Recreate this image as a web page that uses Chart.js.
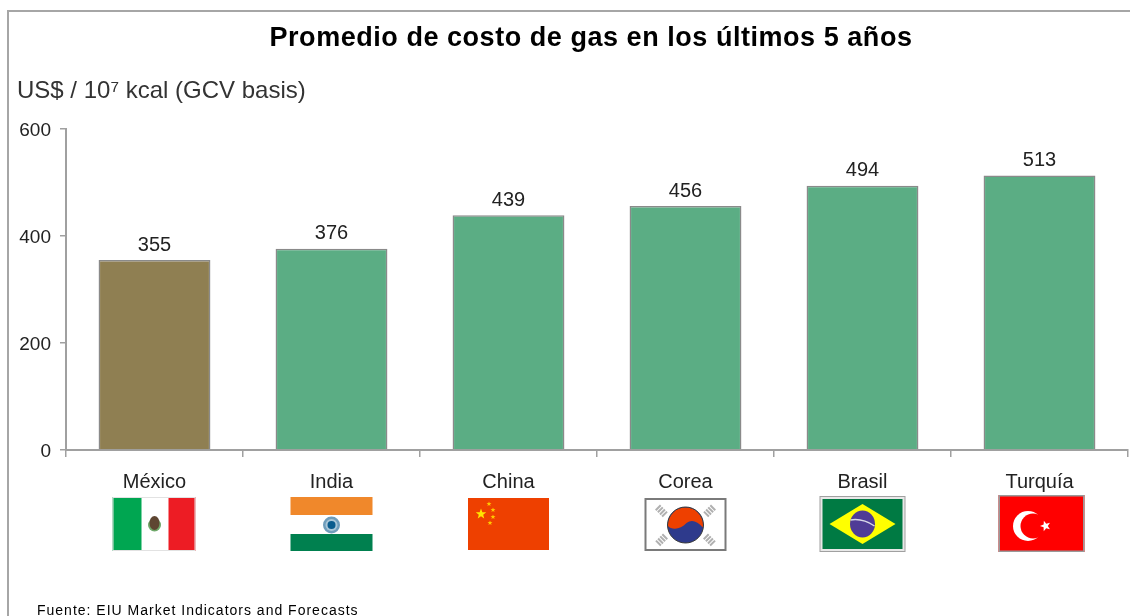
<!DOCTYPE html>
<html><head><meta charset="utf-8">
<style>html,body{margin:0;padding:0;background:#fff}canvas{display:block}</style>
<script src="https://cdn.jsdelivr.net/npm/chart.js@4"></script></head>
<body><canvas id="c" width="1130" height="616"></canvas>
<script>
const categories = ["México","India","China","Corea","Brasil","Turquía"];
const values = [355,376,439,456,494,513];
const barColors = ["#8F7F52","#5BAD84","#5BAD84","#5BAD84","#5BAD84","#5BAD84"];
const yTicks = [0,200,400,600];
const titleText = "Promedio de costo de gas en los últimos 5 años";
const unitText = "US$ / 10⁷ kcal (GCV basis)";
const sourceText = "Fuente: EIU Market Indicators and Forecasts";
const FONT = '"Liberation Sans", Arial, sans-serif';

function star(ctx,cx,cy,r,color,rot){
  ctx.fillStyle=color;ctx.beginPath();
  for(let i=0;i<10;i++){const a=-Math.PI/2+(rot||0)+i*Math.PI/5,q=i%2?r*0.42:r;
    ctx.lineTo(cx+q*Math.cos(a),cy+q*Math.sin(a));}
  ctx.closePath();ctx.fill();
}
const flags = [
 function(ctx,c){ const x=c-42,y=497,w=83,h=54;
  ctx.fillStyle="#fff";ctx.fillRect(x,y,w,h);
  ctx.fillStyle="#00A651";ctx.fillRect(x,y,29,h);
  ctx.fillStyle="#ED1C24";ctx.fillRect(x+56,y,27,h);
  ctx.strokeStyle="#E2E2E2";ctx.lineWidth=1;ctx.strokeRect(x+.5,y+.5,w-1,h-1);
  ctx.fillStyle="#6FA86A";ctx.beginPath();ctx.arc(x+42,y+28,6.5,0,7);ctx.fill();
  ctx.fillStyle="#5E4632";ctx.beginPath();ctx.ellipse(x+42,y+26,5,7,0,0,7);ctx.fill();
 },
 function(ctx,c){ const x=c-41,y=497,w=82,h=54;
  ctx.fillStyle="#F0882B";ctx.fillRect(x,y,w,18);
  ctx.fillStyle="#fff";ctx.fillRect(x,y+18,w,19);
  ctx.fillStyle="#00804F";ctx.fillRect(x,y+37,w,17);
  ctx.fillStyle="#6F9DBB";ctx.beginPath();ctx.arc(c,y+28,8.5,0,7);ctx.fill();
  ctx.fillStyle="#A9C6D8";ctx.beginPath();ctx.arc(c,y+28,6,0,7);ctx.fill();
  ctx.fillStyle="#0A5C8E";ctx.beginPath();ctx.arc(c,y+28,4,0,7);ctx.fill();
 },
 function(ctx,c){ const x=c-40.5,y=498,w=81,h=52;
  ctx.fillStyle="#EE4000";ctx.fillRect(x,y,w,h);
  star(ctx,x+13,y+16,5.5,"#FFE600");
  [[21,6],[25,12],[25,19],[22,25]].forEach(p=>star(ctx,x+p[0],y+p[1],2.6,"#FFC800"));
 },
 function(ctx,c){ const x=c-41,y=498,w=82,h=53;
  ctx.fillStyle="#fff";ctx.fillRect(x,y,w,h);
  ctx.strokeStyle="#7A7A7A";ctx.lineWidth=2;ctx.strokeRect(x+1,y+1,w-2,h-2);
  const cy=y+27;
  ctx.fillStyle="#2E3A8C";ctx.beginPath();ctx.arc(c,cy,18,0,7);ctx.fill();
  ctx.fillStyle="#EE4000";ctx.beginPath();ctx.moveTo(c-17.5,cy+1);
  ctx.arc(c,cy,17.5,Math.PI,0.15);
  ctx.bezierCurveTo(c+12,cy-4,c+6,cy-6,c+1,cy-2);
  ctx.bezierCurveTo(c-5,cy+5,c-14,cy+5,c-17.5,cy+1);ctx.fill();
  ctx.strokeStyle="#3A3A3A";ctx.lineWidth=1;ctx.beginPath();ctx.arc(c,cy,18,0,7);ctx.stroke();
  ctx.strokeStyle="#B0B0B0";ctx.lineWidth=7;
  [[-24,-14,1],[24,-14,-1],[-24,15,-1],[24,15,1]].forEach(p=>{
    ctx.beginPath();ctx.moveTo(c+p[0]-4*p[2],cy+p[1]-4);ctx.lineTo(c+p[0]+4*p[2],cy+p[1]+4);ctx.setLineDash([2,1]);ctx.stroke();ctx.setLineDash([]);
  });
 },
 function(ctx,c){ const x=c-43,y=496,w=86,h=56;
  ctx.fillStyle="#A0A0A0";ctx.fillRect(x,y,w,h);
  ctx.fillStyle="#E8E8E8";ctx.fillRect(x+1,y+1,w-2,h-2);
  ctx.fillStyle="#007A43";ctx.fillRect(x+3,y+3,w-6,h-6);
  ctx.fillStyle="#FFFF00";ctx.beginPath();ctx.moveTo(c,y+8);ctx.lineTo(c+33,y+28);ctx.lineTo(c,y+48);ctx.lineTo(c-33,y+28);ctx.closePath();ctx.fill();
  ctx.fillStyle="#4F3C96";ctx.beginPath();ctx.ellipse(c,y+28,12.5,13.5,0,0,7);ctx.fill();
  ctx.strokeStyle="#D8D8E8";ctx.lineWidth=1.5;ctx.beginPath();ctx.moveTo(c-12,y+24);ctx.quadraticCurveTo(c,y+22,c+12,y+30);ctx.stroke();
 },
 function(ctx,c){ const x=c-41,y=495,w=86,h=57;
  ctx.fillStyle="#FF0000";ctx.fillRect(x,y,w,h);
  ctx.strokeStyle="#999";ctx.lineWidth=1.5;ctx.strokeRect(x+.75,y+.75,w-1.5,h-1.5);
  ctx.fillStyle="#fff";ctx.beginPath();ctx.arc(x+29.5,y+31,15,0,7);ctx.fill();
  ctx.fillStyle="#FF0000";ctx.beginPath();ctx.arc(x+34.5,y+31,12.5,0,7);ctx.fill();
  star(ctx,x+47,y+31,5.5,"#fff",-0.3);
 }
];

const decor = {
 id:"decor",
 beforeDraw(chart){
  const ctx=chart.ctx;ctx.save();
  ctx.fillStyle="#fff";ctx.fillRect(0,0,1130,616);
  ctx.fillStyle="#A6A6A6";
  ctx.fillRect(7,10,1123,2);ctx.fillRect(7,10,2,606);
  ctx.restore();
 },
 afterDraw(chart){
  const ctx=chart.ctx,xs=chart.scales.x,ys=chart.scales.y;ctx.save();
  ctx.textBaseline="middle";ctx.fillStyle="#000";
  ctx.textAlign="center";ctx.font="bold 27px "+FONT;ctx.letterSpacing="0.54px";
  ctx.fillText(titleText,591,39);
  ctx.textAlign="left";ctx.font="24px "+FONT;ctx.letterSpacing="0px";ctx.fillStyle="#333";
  ctx.fillText(unitText,17,91);
  ctx.font="20px "+FONT;ctx.textAlign="center";ctx.fillStyle="#222";
  values.forEach((v,i)=>ctx.fillText(String(v),xs.getPixelForValue(i),ys.getPixelForValue(v)-15));
  ctx.textAlign="left";ctx.font="14px "+FONT;ctx.letterSpacing="1px";ctx.fillStyle="#000";
  ctx.fillText(sourceText,37,611);
  ctx.letterSpacing="0px";
  flags.forEach((f,i)=>f(ctx,xs.getPixelForValue(i)));
  ctx.restore();
 }
};

new Chart(document.getElementById("c"),{
 type:"bar",
 data:{labels:categories,datasets:[{data:values,backgroundColor:barColors,borderColor:"#8A8A8A",borderWidth:1.5,barPercentage:0.632,categoryPercentage:1}]},
 options:{
  responsive:false,animation:false,devicePixelRatio:1,
  layout:{padding:{top:129,right:2,left:0,bottom:0}},
  plugins:{legend:{display:false},tooltip:{enabled:false},title:{display:false}},
  scales:{
   x:{afterFit(s){s.height=166},
      grid:{drawOnChartArea:false,color:"#A0A0A0",tickLength:7,lineWidth:1.5,offset:true},
      border:{color:"#A0A0A0",width:2},
      ticks:{color:"#222",font:{family:FONT,size:20},padding:13,maxRotation:0,autoSkip:false}},
   y:{min:0,max:600,afterFit(s){s.width=66},
      afterBuildTicks(s){s.ticks=yTicks.map(v=>({value:v}))},
      afterUpdate(s){
        if(s._nudged) return; s._nudged=true;
        const orig=s.getLabelItems.bind(s);let seen=null;
        s.getLabelItems=function(a){const items=orig(a);
          if(items!==seen){seen=items;items.forEach(it=>{it.options.translation=[it.options.translation[0],it.options.translation[1]+2]});}
          return items;};
      },
      grid:{drawOnChartArea:false,color:"#A0A0A0",tickLength:6,lineWidth:1.5},
      border:{color:"#A0A0A0",width:2},
      ticks:{color:"#222",font:{family:FONT,size:19},padding:9}}
  }
 },
 plugins:[decor]
});
</script></body></html>
